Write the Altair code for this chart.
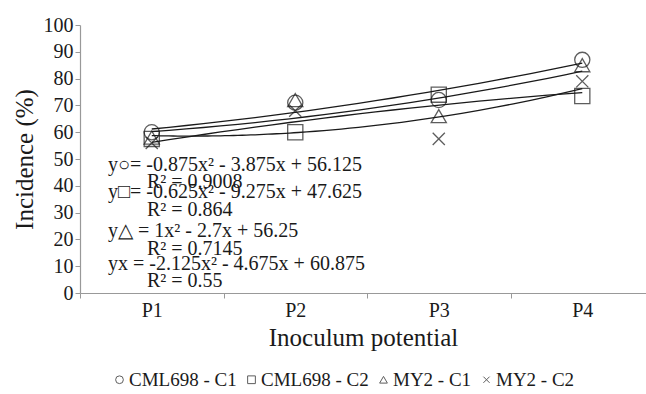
import json
import altair as alt
import pandas as pd

# ---- data ----
potentials = ["P1", "P2", "P3", "P4"]
series_names = ["CML698 - C1", "CML698 - C2", "MY2 - C1", "MY2 - C2"]
cml698_c1 = [60.0, 71.0, 72.0, 87.0]
cml698_c2 = [57.5, 60.0, 74.0, 73.5]
my2_c1 = [58.0, 72.0, 66.0, 85.0]
my2_c2 = [56.0, 68.0, 57.5, 79.0]

eq_lines = [
    "y\u25cb= -0.875x\u00b2 - 3.875x + 56.125",
    "y\u25a1= -0.625x\u00b2 - 9.275x + 47.625",
    "y\u25b3 = 1x\u00b2 - 2.7x + 56.25",
    "yx = -2.125x\u00b2 - 4.675x + 60.875",
]
r2_lines = ["R\u00b2 = 0.9008", "R\u00b2 = 0.864", "R\u00b2 = 0.7145", "R\u00b2 = 0.55"]

rows = []
for name, vals in zip(series_names, [cml698_c1, cml698_c2, my2_c1, my2_c2]):
    for i, (p, v) in enumerate(zip(potentials, vals)):
        rows.append({"series": name, "idx": i + 1, "potential": p, "value": v})
df = pd.DataFrame(rows)

FONT = "'Liberation Serif', 'Times New Roman', Times, serif"
INK = "#1a1a1a"

label_expr = "datum.value % 1 == 0 ? " + json.dumps(potentials) + "[datum.value - 1] : ''"

x_enc = alt.X(
    "idx:Q",
    scale=alt.Scale(domain=[0.5, 4.444], nice=False, zero=False),
    axis=alt.Axis(
        title="Inoculum potential",
        values=[0.5, 1, 1.5, 2, 2.5, 3, 3.5, 4],
        labelExpr=label_expr,
        tickOpacity={"condition": {"test": "datum.value % 1 == 0", "value": 0}, "value": 1},
        grid=False,
        tickSize=5,
        labelPadding=2,
        titlePadding=5,
    ),
)
y_enc = alt.Y(
    "value:Q",
    scale=alt.Scale(domain=[0, 100], nice=False),
    axis=alt.Axis(
        title="Incidence (%)",
        values=list(range(0, 101, 10)),
        grid=False,
        tickSize=5,
        labelPadding=2,
        titlePadding=6,
    ),
)

base = alt.Chart(df)

lines = base.transform_regression(
    "idx", "value", method="poly", order=2, groupby=["series"], extent=[1, 4]
).mark_line(color=INK, strokeWidth=1.3).encode(
    x=x_enc, y=y_enc, detail="series:N"
)

points = base.mark_point(filled=False, color=INK, strokeWidth=1.3, size=230).encode(
    x=x_enc,
    y=y_enc,
    shape=alt.Shape(
        "series:N",
        scale=alt.Scale(
            domain=series_names,
            range=["circle", "square", "triangle-up", "M-0.8,-0.8L0.8,0.8M-0.8,0.8L0.8,-0.8"],
        ),
        legend=alt.Legend(
            title=None,
            orient="none",
            direction="horizontal",
            legendX=30,
            legendY=345,
            symbolSize=60,
            symbolStrokeWidth=1,
            symbolStrokeColor=INK,
            symbolFillColor="transparent",
            labelFont=FONT,
            labelFontSize=19,
            labelColor=INK,
            labelOffset=0,
            columnPadding=5,
        ),
    ),
)

layers = [lines, points]
eq_baselines = [171, 198, 237, 270]
r2_baselines = [188, 216, 255, 287]
for t, yb in zip(eq_lines, eq_baselines):
    layers.append(
        alt.Chart(pd.DataFrame({"t": [t]})).mark_text(
            font=FONT, fontSize=20, color=INK, align="left", baseline="alphabetic"
        ).encode(text="t:N", x=alt.value(108 - 80), y=alt.value(yb - 25))
    )
for t, yb in zip(r2_lines, r2_baselines):
    layers.append(
        alt.Chart(pd.DataFrame({"t": [t]})).mark_text(
            font=FONT, fontSize=20, color=INK, align="left", baseline="alphabetic"
        ).encode(text="t:N", x=alt.value(147 - 80), y=alt.value(yb - 25))
    )

chart = alt.layer(*layers).properties(
    width=566,
    height=268,
    autosize=alt.AutoSizeParams(type="none"),
    padding={"left": 80, "top": 25, "right": 0, "bottom": 101},
).configure_view(stroke=None).configure_axis(
    labelFont=FONT,
    titleFont=FONT,
    labelFontSize=20,
    titleFontSize=25,
    titleFontWeight="normal",
    labelColor=INK,
    titleColor=INK,
    domainColor="#999999",
    tickColor="#999999",
    domainWidth=1.2,
    tickWidth=1,
)

chart.save("out.html", embed_options={"renderer": "svg", "actions": False})
